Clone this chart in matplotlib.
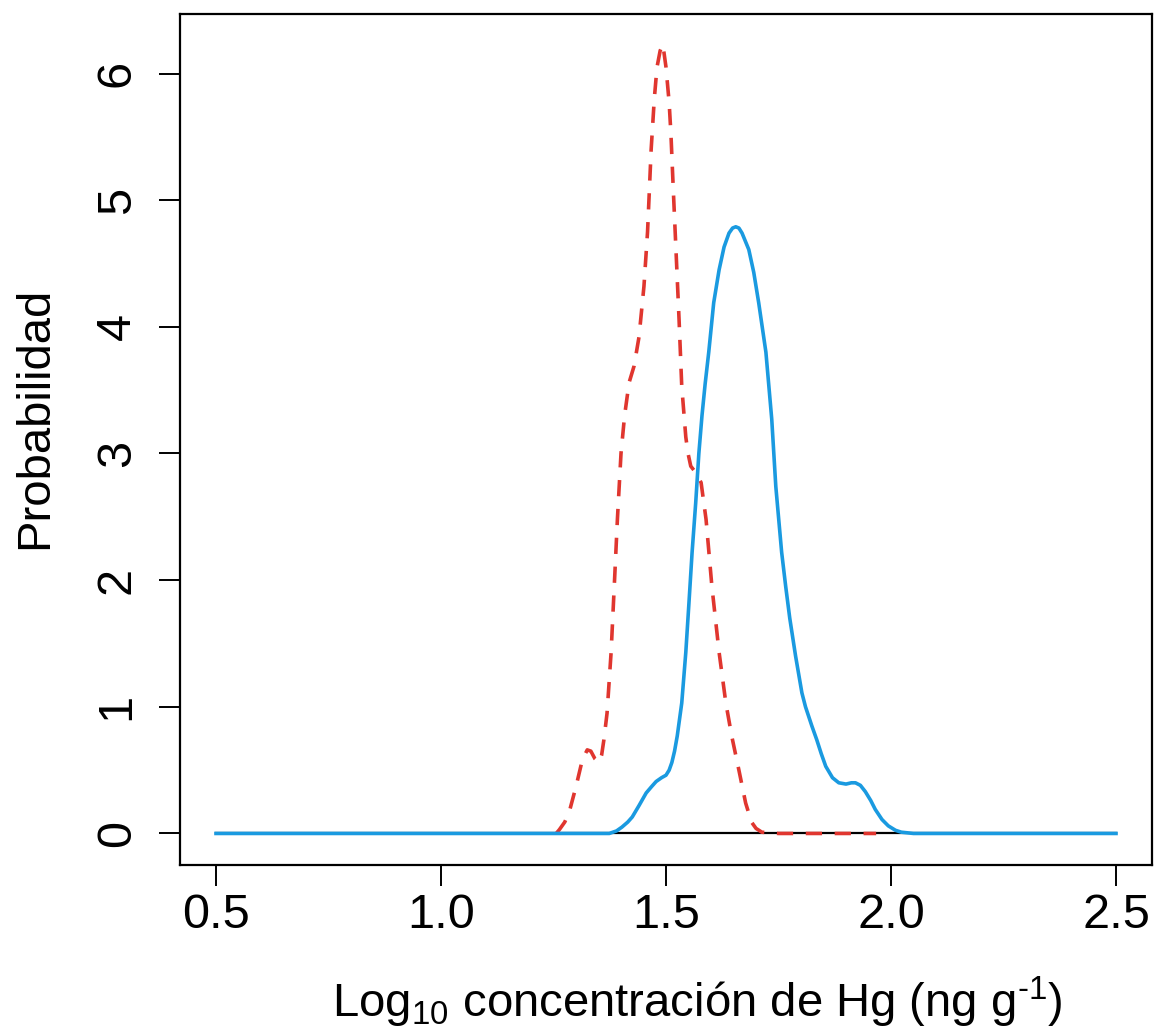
import matplotlib
matplotlib.use("Agg")
import matplotlib.pyplot as plt

plt.rcParams['font.family'] = ['Liberation Sans', 'DejaVu Sans']
plt.rcParams['mathtext.fontset'] = 'custom'
plt.rcParams['mathtext.rm'] = 'Liberation Sans'
plt.rcParams['mathtext.it'] = 'Liberation Sans'

# Dashed red density curve
red_x = [1.256, 1.263, 1.275, 1.285, 1.300, 1.314, 1.325, 1.333, 1.342, 1.351, 1.357, 1.362, 1.369,
         1.378, 1.385, 1.392, 1.400, 1.408, 1.418, 1.429, 1.440, 1.451, 1.459,
         1.467, 1.474, 1.480, 1.487, 1.493, 1.500, 1.507, 1.511, 1.516, 1.522,
         1.529, 1.535, 1.544, 1.549, 1.555, 1.566, 1.578, 1.589, 1.602, 1.618,
         1.633, 1.646, 1.662, 1.677, 1.690, 1.700, 1.713, 1.750, 1.850, 1.967]
red_y = [0.00, 0.03, 0.09, 0.17, 0.37, 0.58, 0.66, 0.65, 0.59, 0.56, 0.62, 0.74, 0.95,
         1.43, 1.95, 2.48, 3.00, 3.30, 3.56, 3.69, 3.92, 4.32, 4.75,
         5.40, 5.80, 6.05, 6.18, 6.23, 6.05, 5.77, 5.52, 5.10, 4.62,
         4.06, 3.53, 3.13, 3.00, 2.90, 2.85, 2.77, 2.48, 1.95, 1.43,
         1.03, 0.77, 0.50, 0.24, 0.09, 0.04, 0.01, 0.00, 0.00, 0.00]

# Solid blue density curve
blue_x = [0.500, 1.000, 1.374, 1.390, 1.402, 1.415, 1.425, 1.440, 1.456, 1.468, 1.478, 1.490, 1.500, 1.507, 1.513,
          1.519, 1.525, 1.535, 1.544, 1.551, 1.558, 1.566, 1.573, 1.580, 1.587, 1.595,
          1.606, 1.618, 1.629, 1.640, 1.648, 1.655, 1.662, 1.669, 1.684, 1.695, 1.706, 1.722,
          1.735, 1.744, 1.757, 1.766, 1.775, 1.788, 1.802, 1.810, 1.824, 1.835,
          1.845, 1.855, 1.870, 1.884, 1.900, 1.912, 1.921, 1.932, 1.943, 1.955, 1.965, 1.980, 1.994, 2.010, 2.023,
          2.050, 2.500]
blue_y = [0.00, 0.00, 0.00, 0.02, 0.05, 0.09, 0.13, 0.22, 0.32, 0.37, 0.41, 0.44, 0.46, 0.50, 0.56,
          0.65, 0.77, 1.03, 1.43, 1.82, 2.22, 2.61, 3.00, 3.30, 3.55, 3.80,
          4.19, 4.45, 4.63, 4.74, 4.78, 4.79, 4.78, 4.74, 4.61, 4.43, 4.19, 3.80,
          3.27, 2.74, 2.22, 1.95, 1.70, 1.40, 1.11, 1.00, 0.85, 0.74,
          0.63, 0.53, 0.44, 0.40, 0.39, 0.40, 0.40, 0.38, 0.33, 0.26, 0.19, 0.11, 0.06, 0.025, 0.01,
          0.00, 0.00]

base_x = [0.5, 2.5]
base_y = [0.0, 0.0]

x_ticks = [0.5, 1.0, 1.5, 2.0, 2.5]
x_tick_labels = ["0.5", "1.0", "1.5", "2.0", "2.5"]
y_ticks = [0, 1, 2, 3, 4, 5, 6]

fig = plt.figure(figsize=(11.57, 10.33), dpi=100)
ax = fig.add_axes([180/1157, 1 - 865/1033, (1152-180)/1157, (865-14)/1033])

ax.plot(base_x, base_y, color='black', lw=1.6, zorder=1)
ax.plot(red_x, red_y, color='#E0362F', lw=2.6, dashes=(4.5, 3.5), zorder=2,
        solid_joinstyle='round', dash_joinstyle='round')
ax.plot(blue_x, blue_y, color='#1A9AE0', lw=2.6, zorder=3,
        solid_joinstyle='round')

ax.set_xlim(0.42, 2.58)
ax.set_ylim(-0.249, 6.47)
ax.set_xticks(x_ticks)
ax.set_xticklabels(x_tick_labels)
ax.set_yticks(y_ticks)
ax.set_yticklabels([str(v) for v in y_ticks], rotation=90, va='center')

for s in ax.spines.values():
    s.set_linewidth(1.6)
ax.tick_params(axis='both', length=15, width=1.4, labelsize=35, color='black')
ax.tick_params(axis='x', pad=5)
ax.tick_params(axis='y', pad=14)

fig.text(697/1157, 16/1033, r'Log$_{10}$ concentración de Hg (ng g$^{\text{-}1}$)',
         ha='center', va='baseline', fontsize=34)
fig.text(35/1157, 1 - 418/1033, 'Probabilidad', rotation=90,
         ha='center', va='center', fontsize=34)

fig.savefig('out.png', dpi=100)
